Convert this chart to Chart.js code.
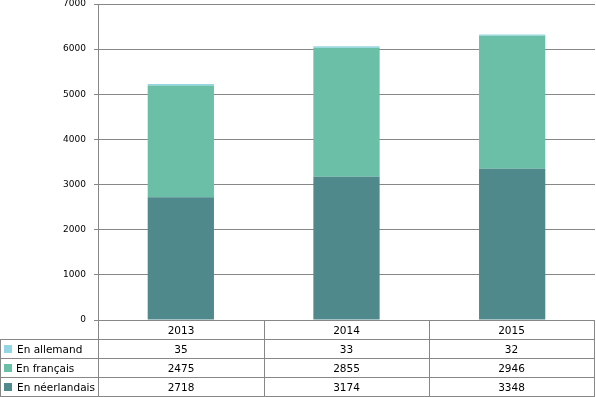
<!DOCTYPE html>
<html>
<head>
<meta charset="utf-8">
<script src="https://cdn.jsdelivr.net/npm/chart.js@4/dist/chart.umd.min.js"></script>
<style>
 body{margin:0;background:#fff;}
 #wrap{position:relative;width:596px;height:397px;font-family:"DejaVu Sans",sans-serif;font-size:10.5px;color:#000;}
 #wrap div.ln{position:absolute;background:#878787;}
 #wrap div.tx{position:absolute;height:19px;line-height:19px;white-space:nowrap;}
 #wrap div.sq{position:absolute;width:8px;height:8px;}
</style>
</head>
<body>
<div id="wrap"><canvas id="c" width="596" height="397"></canvas></div>
<script>
/* DATA */
const years=["2013","2014","2015"];
const allemand=[35,33,32];
const francais=[2475,2855,2946];
const neerlandais=[2718,3174,3348];
const seriesNames=["En allemand","En français","En néerlandais"];
const colors=["#94D6E4","#6BBFA7","#4F898C"];
const gridColor="#878787";

/* CHART */
const chart=new Chart(document.getElementById("c"),{
 type:"bar",
 data:{
  labels:years,
  datasets:[
   {label:seriesNames[2],data:neerlandais,backgroundColor:colors[2]},
   {label:seriesNames[1],data:francais,backgroundColor:colors[1]},
   {label:seriesNames[0],data:allemand,backgroundColor:colors[0]}
  ]
 },
 options:{
  responsive:false,
  animation:false,
  categoryPercentage:0.4,
  barPercentage:1,
  layout:{padding:{top:0,right:1,bottom:77,left:0}},
  plugins:{legend:{display:false},tooltip:{enabled:false}},
  scales:{
   x:{stacked:true,display:false},
   y:{
    stacked:true,min:0,max:7000,
    ticks:{stepSize:1000,color:"#000",padding:8,font:{family:"DejaVu Sans",size:9},callback:v=>String(v)},
    grid:{color:gridColor,tickLength:4},
    border:{color:gridColor},
    afterFit:s=>{s.width=98;s.paddingTop=4;s.paddingBottom=0;}
   }
  }
 }
});

/* DATA TABLE */
function buildTable(){
 const wrap=document.getElementById("wrap");
 const ca=chart.chartArea, xs=chart.scales.x;
 const colW=xs.width/years.length;
 const top=Math.round(ca.bottom), rowH=19, right=Math.round(ca.right)-1;
 const add=(cls,css,text)=>{
  const d=document.createElement("div");d.className=cls;
  Object.assign(d.style,css);
  if(text!==undefined)d.textContent=text;
  wrap.appendChild(d);
 };
 // horizontal lines
 for(let r=1;r<=4;r++)
  add("ln",{left:"0px",top:(top+r*rowH)+"px",width:(right+1)+"px",height:"1px"});
 // vertical lines
 add("ln",{left:"0px",top:(top+rowH)+"px",width:"1px",height:(3*rowH)+"px"});
 const edges=[Math.round(ca.left)];
 years.forEach((y,i)=>edges.push(Math.round(xs.getPixelForValue(i)+colW/2)));
 edges[edges.length-1]=right;
 edges.forEach(x=>add("ln",{left:x+"px",top:top+"px",width:"1px",height:(4*rowH)+"px"}));
 // header
 years.forEach((y,i)=>{
  add("tx",{left:edges[i]+"px",width:(edges[i+1]-edges[i])+"px",top:(top+1)+"px",textAlign:"center"},y);
 });
 // rows
 const rows=[allemand,francais,neerlandais];
 rows.forEach((vals,r)=>{
  const y=top+(r+1)*rowH+1;
  add("sq",{left:"4px",top:(y+5)+"px",background:colors[r]});
  add("tx",{left:(r==1?16:17)+"px",top:y+"px"},seriesNames[r]);
  vals.forEach((v,i)=>{
   add("tx",{left:edges[i]+"px",width:(edges[i+1]-edges[i])+"px",top:y+"px",textAlign:"center"},String(v));
  });
 });
}
buildTable();
</script>
</body>
</html>
